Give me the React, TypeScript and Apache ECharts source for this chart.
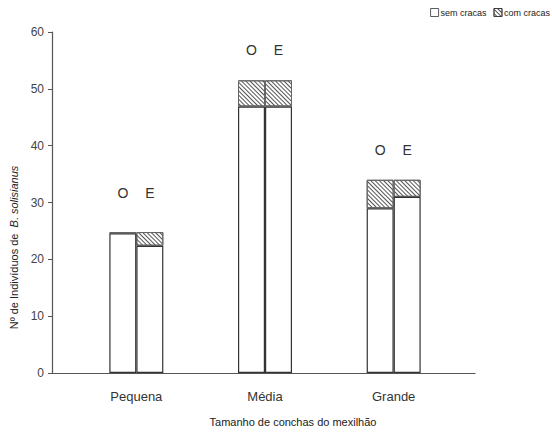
import React, { useEffect, useRef } from "react";
import * as echarts from "echarts";

const categories = ["Pequena", "Média", "Grande"];
const groupNames = ["O", "E"];
// Nº de indivíduos sem cracas / com cracas, amostra O e E
const semCracasO = [24.6, 46.9, 29.0];
const comCracasO = [0.2, 4.6, 5.0];
const semCracasE = [22.4, 46.9, 31.0];
const comCracasE = [2.4, 4.6, 3.0];
const yTicks = { min: 0, max: 60, interval: 10 };

const FONT = "'Liberation Sans', Arial, sans-serif";

export default function App() {
  const ref = useRef<HTMLDivElement>(null);
  useEffect(() => {
    if (!ref.current) return;
    const chart = echarts.init(ref.current, undefined, { renderer: "svg" });
    const hatch = {
      symbol: "rect",
      symbolSize: 1,
      dashArrayX: [1, 0],
      dashArrayY: [1, 2],
      rotation: Math.PI / 4,
      color: "#555",
    };
    const semStyle = { color: "#ffffff", borderColor: "#333", borderWidth: 1.2 };
    const comStyle = { color: "#ffffff", borderColor: "#666", borderWidth: 1, decal: hatch };
    const labelled = (txt: string, v: number[]) =>
      v.map((val, j) => ({
        value: val,
        label: {
          show: true,
          position: "top",
          distance: j === 0 ? 32 : 23,
          formatter: txt,
          fontSize: 14,
          color: "#333",
          fontFamily: FONT,
        },
      }));
    const mk = (name: string, stack: string, data: any[], style: any, z: number) => ({
      type: "bar",
      name,
      stack,
      data,
      barWidth: 27,
      barGap: "0%",
      itemStyle: style,
      z,
      xAxisIndex: 0,
      yAxisIndex: 0,
    });
    chart.setOption({
      animation: false,
      backgroundColor: "#ffffff",
      textStyle: { fontFamily: FONT },
      legend: {
        right: 2,
        top: 8,
        padding: 0,
        icon: "rect",
        itemWidth: 8,
        itemHeight: 8,
        itemGap: 7,
        itemStyle: { borderWidth: 0.8, borderColor: "#333" },
        data: ["sem cracas", "com cracas"],
        textStyle: { fontSize: 9, color: "#222", fontFamily: FONT, padding: [0, 0, 0, -3] },
      },
      grid: [
        { left: 72, right: 94, top: 32, bottom: 61 },
        { left: 52, right: 77, top: 32, bottom: 61 },
      ],
      xAxis: [
        {
          type: "category",
          gridIndex: 0,
          data: categories,
          axisLine: { show: false },
          axisTick: { show: false },
          axisLabel: { fontSize: 13, color: "#333", margin: 17, fontFamily: FONT },
        },
        {
          type: "value",
          gridIndex: 1,
          min: 0,
          max: 1,
          axisLine: { show: true, lineStyle: { color: "#555", width: 1.2 } },
          axisTick: { show: false },
          axisLabel: { show: false },
          splitLine: { show: false },
          name: "Tamanho de conchas do mexilhão",
          nameLocation: "middle",
          nameGap: 43,
          nameTextStyle: { fontSize: 11, color: "#222", padding: [0, 0, 0, 59], fontFamily: FONT },
        },
      ],
      yAxis: [
        {
          type: "value",
          gridIndex: 0,
          offset: 20,
          min: yTicks.min,
          max: yTicks.max,
          interval: yTicks.interval,
          axisLine: { show: true, lineStyle: { color: "#555", width: 1.2 } },
          axisTick: { show: true, length: 4, lineStyle: { color: "#555" } },
          axisLabel: { fontSize: 12, color: "#444", margin: 8, fontFamily: FONT },
          splitLine: { show: false },
          name: "Nº de Indivíduos de  {it|B. solisianus}",
          nameLocation: "middle",
          nameGap: 25,
          nameRotate: 90,
          nameTextStyle: {
            fontSize: 11,
            color: "#222",
            padding: [0, 90, 0, 0],
            fontFamily: FONT,
            rich: { it: { fontStyle: "italic", fontSize: 11, color: "#222", fontFamily: FONT } },
          },
        },
        { type: "value", gridIndex: 1, show: false, min: 0, max: 60 },
      ],
      series: [
        mk("sem cracas", "O", semCracasO, semStyle, 4),
        mk("com cracas", "O", labelled(groupNames[0], comCracasO), comStyle, 3),
        mk("sem cracas", "E", semCracasE, semStyle, 4),
        mk("com cracas", "E", labelled(groupNames[1], comCracasE), comStyle, 3),
      ],
    });
    return () => chart.dispose();
  }, []);
  return (
    <div
      ref={ref}
      style={{ position: "fixed", left: 0, top: 0, width: 552, height: 434, background: "#fff" }}
    />
  );
}
